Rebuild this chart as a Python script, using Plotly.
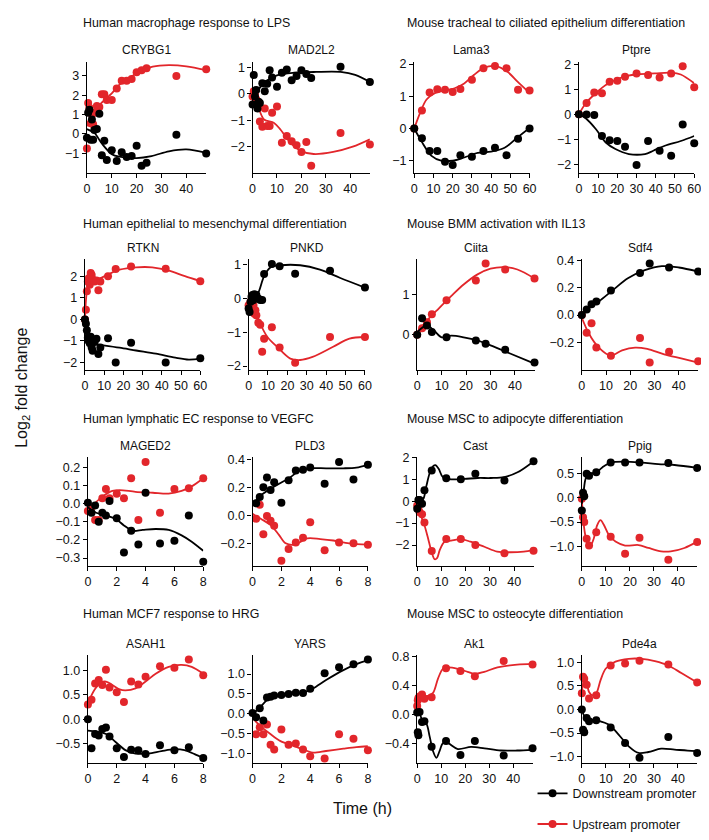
import plotly.graph_objects as go

RED = '#E2262B'
BLACK = '#000000'
FONT = 'Liberation Sans, Arial, sans-serif'
W, H = 709, 840

# ---------------- Titles ----------------
group_titles = ["Human macrophage response to LPS", "Mouse tracheal to ciliated epithelium differentiation",
                "Human epithelial to mesenchymal differentiation", "Mouse BMM activation with IL13",
                "Human lymphatic EC response to VEGFC", "Mouse MSC to adipocyte differentiation",
                "Human MCF7 response to HRG", "Mouse MSC to osteocyte differentiation"]
gene_names = ["CRYBG1", "MAD2L2", "Lama3", "Ptpre",
              "RTKN", "PNKD", "Ciita", "Sdf4",
              "MAGED2", "PLD3", "Cast", "Ppig",
              "ASAH1", "YARS", "Ak1", "Pde4a"]
series_names = ["Downstream promoter", "Upstream promoter"]

# ---------------- Data (time in h, log2 fold change) ----------------
# CRYBG1
crybg1_t = [0, 0.5, 1, 1.5, 2, 2.5, 3, 4, 5, 6, 7, 8, 10, 12, 14, 16, 18, 20, 22, 24, 36, 48]
crybg1_dn = [-0.2, 1.1, 1.25, -0.3, 0.75, -0.3, 0.2, 0.25, 1.05, -1.1, -0.35, -1.35, -0.85, -1.4, -0.95, -1.2, -1.15, -0.62, -1.65, -1.5, -0.05, -1.02]
crybg1_up = [-0.75, 1.6, 1.35, 0.55, 1.0, 0.5, 1.1, 1.45, 1.4, 2.05, 2.05, 1.75, 1.75, 2.35, 2.75, 2.75, 2.85, 3.2, 3.3, 3.4, 3.0, 3.35]
crybg1_fit_dn_t = [0, 3, 6, 10, 13, 20, 26, 33, 40, 48]
crybg1_fit_dn = [0.25, 0.05, -0.5, -1.05, -1.18, -1.25, -1.15, -0.9, -0.8, -0.98]
crybg1_fit_up_t = [0, 3, 6.6, 10, 13, 16.5, 20, 26.5, 33, 40, 48]
crybg1_fit_up = [0.4, 1.2, 1.7, 2.1, 2.54, 2.85, 3.14, 3.48, 3.56, 3.5, 3.3]

# MAD2L2
mad2l2_t = crybg1_t
mad2l2_dn = [-0.4, 0.72, -0.1, 0.15, -0.55, -0.3, -0.35, 0.4, 0.1, 0.38, 0.9, 0.62, 0.27, 0.8, 0.92, 0.52, 0.68, 0.9, 0.75, 0.6, 1.03, 0.45]
mad2l2_up = [-0.1, 0.1, 0.0, -0.2, -0.35, -0.4, -1.05, -1.25, -0.55, -1.22, -1.22, -0.72, -0.48, -1.85, -1.6, -1.8, -1.95, -2.2, -1.82, -2.72, -1.48, -1.92]
mad2l2_fit_dn_t = [0, 2, 5, 10, 17, 26, 36, 42, 48]
mad2l2_fit_dn = [-0.2, 0.1, 0.45, 0.7, 0.8, 0.83, 0.83, 0.72, 0.45]
mad2l2_fit_up_t = [0, 2.7, 4.7, 8.8, 11.4, 15.5, 19.5, 25, 33, 41, 48]
mad2l2_fit_up = [0, -0.6, -0.97, -1.1, -1.35, -1.85, -2.15, -2.28, -2.2, -2.0, -1.72]

# Lama3
lama3_t = [0, 4, 8, 12, 16, 20, 24, 30, 36, 42, 48, 54, 60]
lama3_dn = [0, -0.3, -0.7, -0.7, -1.03, -1.13, -0.83, -0.88, -0.7, -0.6, -0.83, -0.32, 0.0]
lama3_up = [0, 0.56, 1.12, 1.22, 1.2, 1.13, 1.23, 1.51, 1.87, 1.94, 1.87, 1.2, 1.18]
lama3_fit_dn_t = [0, 3.8, 9, 14, 20, 26, 33, 40, 47, 53.6, 60]
lama3_fit_dn = [0, -0.4, -0.85, -1.0, -1.0, -0.9, -0.76, -0.72, -0.6, -0.28, 0.02]
lama3_fit_up_t = [0, 3, 6.4, 10.7, 15.8, 21, 26, 31, 36.4, 42.5, 48.5, 53.6, 60]
lama3_fit_up = [0, 0.48, 0.9, 1.1, 1.18, 1.25, 1.4, 1.66, 1.89, 1.94, 1.76, 1.46, 1.1]

# Ptpre
ptpre_t = lama3_t
ptpre_dn = [0, -0.01, -0.03, -0.87, -1.04, -1.07, -1.3, -2.03, -1.07, -1.46, -1.66, -0.41, -1.16]
ptpre_up = [0, 0.45, 0.87, 0.84, 1.3, 1.34, 1.5, 1.63, 1.57, 1.47, 1.63, 1.92, 1.08]
ptpre_fit_dn_t = [0, 3.7, 8.9, 14, 19, 26, 34.4, 38.7, 44.7, 53, 60]
ptpre_fit_dn = [0, -0.17, -0.6, -1.13, -1.39, -1.59, -1.59, -1.46, -1.26, -1.07, -0.87]
ptpre_fit_up_t = [0, 3.7, 8.9, 14, 19, 25, 31, 39.5, 48, 53, 60]
ptpre_fit_up = [0, 0.45, 0.85, 1.17, 1.37, 1.53, 1.6, 1.63, 1.66, 1.59, 1.24]

# RTKN
rtkn_t = [0, 0.5, 1, 1.5, 2, 2.5, 3, 3.5, 4, 5, 6, 7, 8, 12, 16, 24, 42, 60]
rtkn_dn = [0.0, -0.2, -0.5, -0.85, -1.0, -1.1, -0.8, -1.3, -1.45, -1.05, -0.9, -1.6, -1.3, -0.87, -2.0, -1.08, -2.0, -1.8]
rtkn_up = [0.0, 0.45, 1.3, 1.75, 1.9, 1.6, 2.15, 2.05, 1.85, 1.75, 1.8, 1.35, 1.75, 2.0, 2.33, 2.45, 2.35, 1.77]
rtkn_fit_dn_t = [0, 0.9, 2.6, 6, 9.4, 18, 26.6, 36.9, 47, 54, 60]
rtkn_fit_dn = [0, -0.84, -1.07, -1.16, -1.2, -1.31, -1.44, -1.59, -1.77, -1.86, -1.82]
rtkn_fit_up_t = [0, 0.5, 1.2, 2.2, 4.3, 7.7, 12, 18, 26.6, 35, 43.7, 52, 60]
rtkn_fit_up = [0, 0.85, 1.47, 1.77, 1.85, 1.9, 2.08, 2.3, 2.41, 2.41, 2.26, 2.0, 1.77]

# PNKD
pnkd_t = rtkn_t
pnkd_dn = [-0.3, -0.4, -0.1, 0.05, 0.1, -0.05, 0.12, 0.05, 0.1, 0.0, -0.05, -0.05, 0.72, 1.02, 0.95, 0.73, 0.82, 0.32]
pnkd_up = [-0.2, -0.3, -0.1, -0.25, -0.3, -0.2, -0.45, -0.35, -0.5, -0.72, -0.78, -1.58, -1.19, -0.85, -1.45, -1.9, -1.14, -1.14]
pnkd_fit_dn_t = [0, 2.9, 5.4, 8, 11.4, 16.4, 26.6, 36.8, 47, 60]
pnkd_fit_dn = [-0.07, -0.07, 0.22, 0.66, 0.92, 0.98, 0.98, 0.85, 0.61, 0.32]
pnkd_fit_up_t = [0, 2.9, 5.4, 9.7, 14.7, 21.5, 26.6, 33, 43.6, 52, 60]
pnkd_fit_up = [-0.07, -0.22, -0.66, -1.14, -1.43, -1.78, -1.82, -1.73, -1.43, -1.19, -1.14]

# Ciita
ciita_t = [0, 2, 4, 6, 12, 24, 28, 36, 48]
ciita_dn = [0, 0.41, 0.23, 0.07, -0.06, -0.14, -0.22, -0.37, -0.68]
ciita_up = [0, 0.16, 0.31, 0.51, 0.85, 1.34, 1.76, 1.61, 1.39]
ciita_fit_dn_t = [0, 4, 7, 10, 14, 19, 24.7, 30, 38, 48]
ciita_fit_dn = [0.07, 0.23, 0.1, -0.06, -0.02, -0.06, -0.14, -0.26, -0.46, -0.71]
ciita_fit_up_t = [0, 4, 8.5, 14, 19, 24.7, 30, 35.5, 41, 48]
ciita_fit_up = [0.07, 0.35, 0.63, 0.96, 1.24, 1.49, 1.63, 1.67, 1.61, 1.39]

# Sdf4
sdf4_t = ciita_t
sdf4_dn = [0, 0.04, 0.08, 0.1, 0.18, 0.31, 0.38, 0.35, 0.32]
sdf4_up = [0, -0.13, -0.06, -0.24, -0.3, -0.17, -0.35, -0.27, -0.34]
sdf4_fit_dn_t = [0, 3, 7, 12.6, 19, 26, 33, 40, 48]
sdf4_fit_dn = [0, 0.055, 0.1, 0.18, 0.27, 0.33, 0.36, 0.35, 0.32]
sdf4_fit_up_t = [0, 3, 7, 12, 16.6, 22, 27, 34, 41, 48]
sdf4_fit_up = [-0.02, -0.14, -0.24, -0.3, -0.26, -0.24, -0.25, -0.29, -0.32, -0.35]

# MAGED2
maged2_t = [0, 0.25, 0.5, 0.75, 1, 1.25, 1.5, 2, 2.5, 3, 3.5, 4, 5, 6, 7, 8]
maged2_dn = [0.005, -0.05, -0.01, -0.1, -0.05, -0.065, 0.015, -0.08, -0.27, -0.15, -0.225, 0.06, -0.22, -0.205, -0.065, -0.32]
maged2_up = [-0.04, -0.02, -0.09, -0.09, 0.03, 0.08, 0.03, 0.055, 0.03, 0.14, -0.09, 0.23, -0.05, 0.08, 0.085, 0.14]
maged2_fit_dn_t = [0, 0.57, 1.26, 1.94, 2.5, 3.1, 3.8, 4.7, 5.6, 6.5, 7.2, 8]
maged2_fit_dn = [-0.02, -0.05, -0.065, -0.085, -0.12, -0.15, -0.145, -0.14, -0.145, -0.175, -0.21, -0.26]
maged2_fit_up_t = [0, 0.46, 1.03, 1.7, 2.2, 3.3, 4.5, 5.6, 6.5, 7.2, 8]
maged2_fit_up = [-0.04, 0.0, 0.04, 0.07, 0.075, 0.065, 0.06, 0.055, 0.07, 0.095, 0.14]

# PLD3
pld3_t = [0.25, 0.5, 0.75, 1, 1.25, 1.5, 2, 2.5, 3, 3.5, 4, 5, 6, 7, 8]
pld3_dn = [0.085, 0.13, 0.2, 0.27, 0.18, 0.235, 0.09, 0.25, 0.32, 0.325, 0.34, 0.225, 0.38, 0.255, 0.36]
pld3_up = [-0.025, 0.075, -0.135, -0.005, -0.04, -0.075, -0.325, -0.24, -0.195, -0.16, -0.05, -0.25, -0.195, -0.2, -0.21]
pld3_fit_dn_t = [0, 0.57, 1.26, 1.94, 2.6, 3.3, 4, 5.1, 6.3, 7.2, 8]
pld3_fit_dn = [0.08, 0.14, 0.19, 0.23, 0.27, 0.32, 0.335, 0.335, 0.335, 0.34, 0.36]
pld3_fit_up_t = [0, 0.57, 1.26, 1.83, 2.3, 2.9, 3.8, 4.7, 5.6, 6.7, 8]
pld3_fit_up = [0.01, -0.025, -0.07, -0.14, -0.2, -0.21, -0.165, -0.17, -0.18, -0.2, -0.21]

# Cast
cast_t = [0, 0.5, 1, 2, 3, 6, 12, 18, 24, 36, 48]
cast_dn = [-0.35, 0.05, 0.05, -0.12, 0.5, 1.4, 1.05, 1.0, 1.25, 0.95, 1.82]
cast_up = [-0.2, -0.35, -0.5, -0.6, -0.97, -2.27, -1.73, -1.73, -2.0, -2.38, -2.26]
cast_fit_dn_t = [0, 1.1, 2.5, 3.8, 5.2, 6.6, 7.5, 8.9, 10.6, 14, 19.5, 25, 30.4, 35.9, 41.4, 48]
cast_fit_dn = [-0.2, 0.0, 0.1, 0.7, 1.3, 1.6, 1.65, 1.47, 1.1, 1.0, 1.02, 1.06, 1.06, 1.1, 1.32, 1.82]
cast_fit_up_t = [0, 1.1, 2, 3, 4.5, 5.9, 7.2, 8.2, 9.3, 11.3, 14, 18, 22, 27.7, 33, 38.6, 44, 48]
cast_fit_up = [-0.1, -0.4, -0.8, -1.1, -1.7, -2.3, -2.65, -2.6, -2.23, -1.85, -1.8, -1.73, -1.85, -2.08, -2.3, -2.33, -2.3, -2.23]

# Ppig
ppig_t = cast_t
ppig_dn = [-0.26, 0.1, 0.03, 0.49, 0.45, 0.52, 0.72, 0.72, 0.72, 0.71, 0.61]
ppig_up = [-0.02, -0.4, -0.5, -0.84, -0.98, -0.71, -0.8, -1.15, -0.82, -1.27, -0.91]
ppig_fit_dn_t = [0, 0.7, 1.6, 3, 5.8, 8.5, 12, 18, 25, 31.8, 38.6, 48]
ppig_fit_dn = [-0.12, 0.11, 0.39, 0.49, 0.51, 0.62, 0.72, 0.74, 0.72, 0.69, 0.67, 0.61]
ppig_fit_up_t = [0, 0.55, 1.4, 2.3, 3.7, 5, 6.4, 7.8, 9.2, 11.2, 14, 18, 23.6, 27.7, 33, 37, 42.7, 48]
ppig_fit_up = [-0.02, -0.43, -0.76, -0.93, -0.97, -0.83, -0.56, -0.46, -0.56, -0.76, -0.9, -0.98, -0.97, -1.03, -1.1, -1.1, -1.03, -0.9]

# ASAH1
asah1_t = [0, 0.25, 0.5, 0.75, 1, 1.25, 1.5, 2, 2.5, 3, 3.5, 4, 5, 6, 7, 8]
asah1_dn = [0.0, -0.59, -0.3, -0.33, -0.2, -0.17, -0.35, -0.59, -0.77, -0.62, -0.63, -0.71, -0.53, -0.63, -0.57, -0.79]
asah1_up = [0.3, 0.4, 0.73, 0.8, 0.7, 1.01, 0.65, 0.55, 0.35, 0.77, 0.71, 0.87, 1.08, 1.05, 1.22, 0.9]
asah1_fit_dn_t = [0, 0.57, 1.26, 1.94, 2.6, 3.3, 4.2, 5.1, 6, 6.7, 7.4, 8]
asah1_fit_dn = [-0.23, -0.25, -0.3, -0.47, -0.63, -0.7, -0.7, -0.65, -0.61, -0.63, -0.71, -0.79]
asah1_fit_up_t = [0, 0.46, 0.9, 1.26, 1.7, 2.2, 2.6, 3.3, 4, 4.7, 5.6, 6.5, 7.2, 8]
asah1_fit_up = [0.33, 0.6, 0.75, 0.77, 0.7, 0.61, 0.59, 0.63, 0.77, 0.93, 1.07, 1.11, 1.07, 0.93]

# YARS
yars_t_dn = [0, 0.25, 0.5, 0.75, 1, 1.25, 1.5, 2, 2.5, 3, 3.5, 4, 5, 6, 7, 8]
yars_dn = [0.02, -0.09, 0.14, -0.17, 0.41, 0.43, 0.46, 0.47, 0.5, 0.53, 0.52, 0.63, 1.02, 1.17, 1.25, 1.37]
yars_t_up = [0.25, 0.5, 0.75, 1, 1.25, 1.5, 2, 2.5, 3, 3.5, 4, 5, 6, 7, 8]
yars_up = [-0.52, -0.34, -0.52, -0.27, -0.78, -0.9, -0.4, -0.78, -0.75, -0.9, -1.07, -1.13, -0.52, -0.63, -0.92]
yars_fit_dn_t = [0, 0.57, 1.03, 1.7, 2.6, 3.5, 4.2, 5.1, 6.3, 7.2, 8]
yars_fit_dn = [-0.02, 0.18, 0.35, 0.45, 0.5, 0.53, 0.64, 0.85, 1.1, 1.25, 1.35]
yars_fit_up_t = [0, 0.57, 1.26, 1.94, 2.9, 3.8, 4.2, 5.1, 6.3, 7.2, 8]
yars_fit_up = [-0.11, -0.32, -0.52, -0.69, -0.82, -0.94, -0.98, -0.94, -0.88, -0.84, -0.82]

# Ak1
ak1_t = [0, 0.25, 0.5, 1, 2, 3, 6, 12, 18, 24, 36, 48]
ak1_dn = [0.03, -0.24, -0.28, 0.04, -0.1, -0.09, -0.44, -0.36, -0.55, -0.36, -0.56, -0.46]
ak1_up = [0.12, 0.2, 0.23, 0.25, 0.28, 0.22, 0.24, 0.64, 0.6, 0.53, 0.74, 0.69]
ak1_fit_dn_t = [0, 1.1, 2.5, 3.8, 5.2, 6.6, 8, 9.3, 10.7, 12.8, 16.9, 22.4, 28, 34.8, 41.6, 48]
ak1_fit_dn = [0.08, 0.01, -0.1, -0.12, -0.3, -0.5, -0.59, -0.5, -0.39, -0.39, -0.47, -0.44, -0.46, -0.49, -0.49, -0.48]
ak1_fit_up_t = [0, 1.8, 4.5, 6.6, 8.7, 10.7, 12.8, 16.9, 21, 24, 27.9, 33.4, 41.6, 48]
ak1_fit_up = [0.14, 0.25, 0.26, 0.3, 0.5, 0.63, 0.65, 0.63, 0.59, 0.56, 0.59, 0.65, 0.69, 0.7]

# Pde4a
pde4a_t = [0, 0.5, 1, 2, 3, 6, 12, 18, 24, 36, 48]
pde4a_dn = [0.0, -0.43, -0.48, -0.18, -0.25, -0.23, -0.38, -0.71, -1.02, -0.58, -0.92]
pde4a_up = [0.34, 0.69, 0.65, 0.52, 0.23, 0.3, 0.93, 0.97, 1.03, 0.95, 0.57]
pde4a_fit_dn_t = [0, 1.6, 4.4, 7, 11.2, 15.3, 19.5, 23.6, 27.7, 33, 38.6, 44, 48]
pde4a_fit_dn = [-0.01, -0.18, -0.22, -0.24, -0.32, -0.53, -0.78, -0.92, -0.9, -0.83, -0.85, -0.87, -0.88]
pde4a_fit_up_t = [0, 1, 1.9, 3, 4.4, 6, 7.8, 9.9, 14, 19.5, 25, 30.4, 36, 41.4, 48]
pde4a_fit_up = [0.37, 0.62, 0.58, 0.37, 0.3, 0.34, 0.62, 0.86, 1.01, 1.07, 1.07, 1.02, 0.93, 0.77, 0.57]

# ---------------- Axis settings ----------------
ticks_x48 = [0, 10, 20, 30, 40]
ticks_x60 = [0, 10, 20, 30, 40, 50, 60]
ticks_x8 = [0, 2, 4, 6, 8]

# panel table: (points dn t, dn, points up t, up, fit dn t, fit dn, fit up t, fit up,
#               xmax, xticks, yrange, yticks, yformat, xdomain_px, row)
panels = [
    (crybg1_t, crybg1_dn, crybg1_t, crybg1_up, crybg1_fit_dn_t, crybg1_fit_dn, crybg1_fit_up_t, crybg1_fit_up,
     48, ticks_x48, [-2.04, 3.70], [-1, 0, 1, 2, 3], '', (77, 198), 0),
    (mad2l2_t, mad2l2_dn, mad2l2_t, mad2l2_up, mad2l2_fit_dn_t, mad2l2_fit_dn, mad2l2_fit_up_t, mad2l2_fit_up,
     48, ticks_x48, [-3.01, 1.19], [-2, -1, 0, 1], '', (245, 364), 0),
    (lama3_t, lama3_dn, lama3_t, lama3_up, lama3_fit_dn_t, lama3_fit_dn, lama3_fit_up_t, lama3_fit_up,
     60, ticks_x60, [-1.39, 2.05], [-1, 0, 1, 2], '', (409, 526), 0),
    (ptpre_t, ptpre_dn, ptpre_t, ptpre_up, ptpre_fit_dn_t, ptpre_fit_dn, ptpre_fit_up_t, ptpre_fit_up,
     60, ticks_x60, [-2.36, 2.07], [-2, -1, 0, 1, 2], '', (576, 693), 0),
    (rtkn_t, rtkn_dn, rtkn_t, rtkn_up, rtkn_fit_dn_t, rtkn_fit_dn, rtkn_fit_up_t, rtkn_fit_up,
     60, ticks_x60, [-2.35, 2.78], [-2, -1, 0, 1, 2], '', (75, 192), 1),
    (pnkd_t, pnkd_dn, pnkd_t, pnkd_up, pnkd_fit_dn_t, pnkd_fit_dn, pnkd_fit_up_t, pnkd_fit_up,
     60, ticks_x60, [-2.12, 1.155], [-2, -1, 0, 1], '', (241, 359), 1),
    (ciita_t, ciita_dn, ciita_t, ciita_up, ciita_fit_dn_t, ciita_fit_dn, ciita_fit_up_t, ciita_fit_up,
     48, ticks_x48, [-0.87, 1.86], [0, 1], '', (412, 531), 1),
    (sdf4_t, sdf4_dn, sdf4_t, sdf4_up, sdf4_fit_dn_t, sdf4_fit_dn, sdf4_fit_up_t, sdf4_fit_up,
     48, ticks_x48, [-0.406, 0.41], [-0.2, 0.0, 0.2, 0.4], '.1f', (579, 697), 1),
    (maged2_t, maged2_dn, maged2_t, maged2_up, maged2_fit_dn_t, maged2_fit_dn, maged2_fit_up_t, maged2_fit_up,
     8, ticks_x8, [-0.344, 0.256], [-0.3, -0.2, -0.1, 0.0, 0.1, 0.2], '.1f', (78, 195), 2),
    (pld3_t, pld3_dn, pld3_t, pld3_up, pld3_fit_dn_t, pld3_fit_dn, pld3_fit_up_t, pld3_fit_up,
     8, ticks_x8, [-0.362, 0.414], [-0.2, 0.0, 0.2, 0.4], '.1f', (245, 362), 2),
    (cast_t, cast_dn, cast_t, cast_up, cast_fit_dn_t, cast_fit_dn, cast_fit_up_t, cast_fit_up,
     48, ticks_x48, [-2.96, 2.01], [-2, -1, 0, 1, 2], '', (412, 530), 2),
    (ppig_t, ppig_dn, ppig_t, ppig_up, ppig_fit_dn_t, ppig_fit_dn, ppig_fit_up_t, ppig_fit_up,
     48, ticks_x48, [-1.40, 0.83], [-1.0, -0.5, 0.0, 0.5], '.1f', (579, 696), 2),
    (asah1_t, asah1_dn, asah1_t, asah1_up, asah1_fit_dn_t, asah1_fit_dn, asah1_fit_up_t, asah1_fit_up,
     8, ticks_x8, [-0.89, 1.31], [-0.5, 0.0, 0.5, 1.0], '.1f', (78, 195), 3),
    (yars_t_dn, yars_dn, yars_t_up, yars_up, yars_fit_dn_t, yars_fit_dn, yars_fit_up_t, yars_fit_up,
     8, ticks_x8, [-1.24, 1.48], [-1.0, -0.5, 0.0, 0.5, 1.0], '.1f', (245, 362), 3),
    (ak1_t, ak1_dn, ak1_t, ak1_up, ak1_fit_dn_t, ak1_fit_dn, ak1_fit_up_t, ak1_fit_up,
     48, ticks_x48, [-0.66, 0.82], [-0.4, 0.0, 0.4, 0.8], '.1f', (412, 529), 3),
    (pde4a_t, pde4a_dn, pde4a_t, pde4a_up, pde4a_fit_dn_t, pde4a_fit_dn, pde4a_fit_up_t, pde4a_fit_up,
     48, ticks_x48, [-1.13, 1.15], [-1.0, -0.5, 0.0, 0.5, 1.0], '.1f', (579, 696), 3),
]

row_px = [(49, 161), (248, 360), (448, 558), (648, 757)]
group_title_y = [9, 212, 409, 607]
gene_title_y = [36, 237, 437, 637]

fig = go.Figure()
layout_axes = {}
annotations = []

for i, p in enumerate(panels):
    (tdn, dn, tup, up, ftdn, fdn, ftup, fup, xmax, xt, yr, yt, yfmt, xpx, row) = p
    n = '' if i == 0 else str(i + 1)
    xa, ya = 'x' + n, 'y' + n
    # upstream first (drawn beneath)
    fig.add_trace(go.Scatter(x=ftup, y=fup, mode='lines', line=dict(color=RED, width=1.8, shape='spline', smoothing=0.9),
                             xaxis=xa, yaxis=ya, showlegend=False, cliponaxis=False, hoverinfo='skip'))
    fig.add_trace(go.Scatter(x=tup, y=up, mode='markers', marker=dict(color=RED, size=8),
                             xaxis=xa, yaxis=ya, showlegend=False, cliponaxis=False))
    fig.add_trace(go.Scatter(x=ftdn, y=fdn, mode='lines', line=dict(color=BLACK, width=1.8, shape='spline', smoothing=0.9),
                             xaxis=xa, yaxis=ya, showlegend=False, cliponaxis=False, hoverinfo='skip'))
    fig.add_trace(go.Scatter(x=tdn, y=dn, mode='markers', marker=dict(color=BLACK, size=8),
                             xaxis=xa, yaxis=ya, showlegend=False, cliponaxis=False))
    yb, ytop = row_px[row]
    common = dict(showline=True, linecolor='black', linewidth=1.4, ticks='outside', ticklen=4, tickwidth=1.4,
                  tickcolor='black', showgrid=False, zeroline=False,
                  tickfont=dict(family=FONT, size=12.5, color='#111'))
    layout_axes['xaxis' + n] = dict(common, domain=[xpx[0] / W, xpx[1] / W], range=[0, xmax], tickvals=xt,
                                    anchor=ya)
    layout_axes['yaxis' + n] = dict(common, domain=[1 - ytop / H, 1 - yb / H], range=yr, tickvals=yt,
                                    tickformat=yfmt, anchor=xa)
    annotations.append(dict(text=gene_names[i], x=(xpx[0] + xpx[1]) / 2 / W, y=1 - gene_title_y[row] / H,
                            xref='paper', yref='paper', xanchor='center', yanchor='middle', showarrow=False,
                            font=dict(family=FONT, size=12, color='#111')))

for g, title in enumerate(group_titles):
    row, col = g // 2, g % 2
    annotations.append(dict(text=title, x=(71 if col == 0 else 400) / W, y=1 - group_title_y[row] / H,
                            xref='paper', yref='paper', xanchor='left', yanchor='middle', showarrow=False,
                            font=dict(family=FONT, size=12.4, color='#111')))

annotations.append(dict(text='Log<sub>2</sub> fold change', x=12 / W, y=1 - 378 / H, textangle=-90,
                        xref='paper', yref='paper', xanchor='center', yanchor='middle', showarrow=False,
                        font=dict(family=FONT, size=16, color='#111')))
annotations.append(dict(text='Time (h)', x=357 / W, y=1 - 803 / H,
                        xref='paper', yref='paper', xanchor='center', yanchor='middle', showarrow=False,
                        font=dict(family=FONT, size=16, color='#111')))

# legend entries
fig.add_trace(go.Scatter(x=[None], y=[None], mode='lines+markers', name=series_names[0],
                         line=dict(color=BLACK, width=1.8), marker=dict(color=BLACK, size=8), legend='legend'))
fig.add_trace(go.Scatter(x=[None], y=[None], mode='lines+markers', name=series_names[1],
                         line=dict(color=RED, width=1.8), marker=dict(color=RED, size=8), legend='legend2'))

legend_common = dict(xanchor='left', yanchor='top', bgcolor='rgba(0,0,0,0)', itemwidth=30,
                     borderwidth=0, tracegroupgap=0,
                     font=dict(family=FONT, size=12.5, color='#111'))
fig.update_layout(
    width=W, height=H, margin=dict(l=0, r=0, t=0, b=0),
    plot_bgcolor='white', paper_bgcolor='white',
    annotations=annotations,
    legend=dict(legend_common, x=529 / W, y=1 - 773 / H),
    legend2=dict(legend_common, x=529 / W, y=1 - 804 / H),
    **layout_axes,
)

fig.write_html("out.html")
